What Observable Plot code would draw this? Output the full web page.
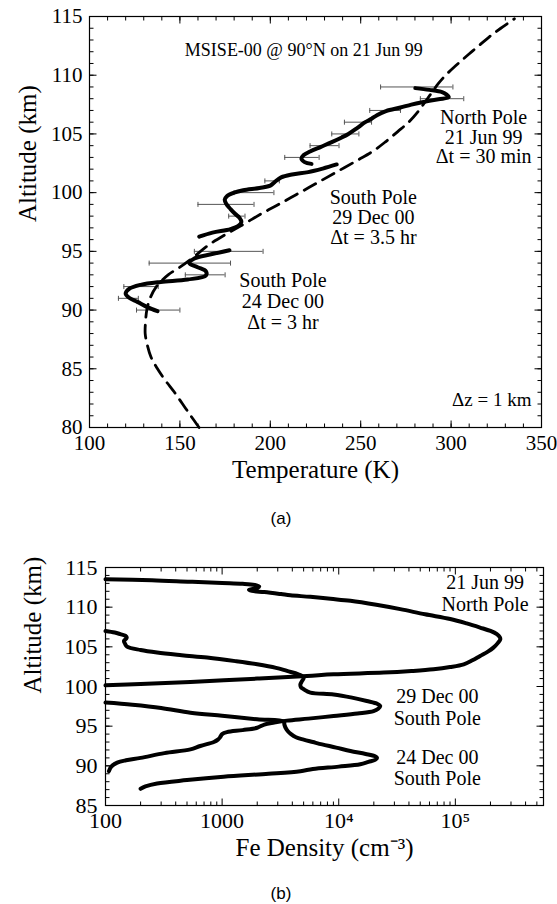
<!DOCTYPE html>
<html><head><meta charset="utf-8">
<script src="https://cdn.jsdelivr.net/npm/d3@7"></script>
<script src="https://cdn.jsdelivr.net/npm/@observablehq/plot@0.6"></script>
<style>
body{margin:0;background:#fff;}
#wrap{position:relative;width:557px;height:904px;overflow:hidden;background:#fff;}
#pa{position:absolute;top:0;left:0;}
#pb{position:absolute;top:540px;left:0;}
#wrap svg, #wrap svg text{font-family:"Liberation Serif","Times New Roman",serif !important;}
.cap{position:absolute;font-family:"Liberation Sans",Arial,sans-serif;font-size:17px;transform:translate(-50%,-50%);color:#000;}
</style></head><body>
<div id="wrap">
<div id="pa"></div>
<div class="cap" style="left:281px;top:519px">(a)</div>
<div id="pb"></div>
<div class="cap" style="left:281px;top:894px">(b)</div>
</div>
<script>
// ---------- Panel (a): temperature profiles ----------
const msiseAlt  = [80,81,82,83,84,85,86,87,88,89,90,91,92,93,93.65,94.5,95.5,96.5,97.35,98.2,98.9,99.8,100.75,101.7,102.74,103.5,104.3,105.2,106,106.86,107.7,108.56,109.3,110,110.8,111.55,112.4,113.25,114,114.8];
const msiseTemp = [160.6,156,151.5,147,142,137.6,134,132,130.8,131,131.7,133.5,137,143.5,150,157.5,165.5,176,185.7,195,203.5,214,225,236,248,256.5,263.5,270.5,276.5,281.5,285.5,289.5,293,297,302.5,308,314.5,321,327.5,335];

const sp24Alt  = [89.9,90.25,90.7,91.05,91.4,91.8,92.15,92.4,92.6,92.95,93.3,93.65,94.0,94.4,94.75,95.1];
const sp24Temp = [137.6,132,126.5,121.9,120,121.9,128.3,139.4,154.3,164.4,164.4,159.8,155.2,158,167.2,177.4];

const sp29Alt  = [96.25,96.6,96.9,97.2,97.5,97.85,98.2,98.6,99.05,99.4,99.7,100.0,100.2,100.4,100.6,100.9,101.3,101.55,101.75,102.05,102.4];
const sp29Temp = [160.7,168,178,182.5,184,183,180.5,178,175.6,174.8,176,180,185,194,200,202.4,206,212,221,229,236.7];

const npAlt  = [102.45,102.6,102.9,103.2,103.5,103.9,104.3,104.7,105.0,105.5,106.0,106.3,106.6,106.95,107.25,107.5,107.7,107.95,108.13,108.35,108.56,108.75,108.9];
const npTemp = [222.8,219,217.2,218.5,222,228,234,239.5,243.2,248,252.5,256,259,264,272,278,284,293,298.7,297.5,295,288,280.2];

const errAlt = [90,91,92,93,94,95,98,99,100,101,103,104,105,106,107,108,109];
const errLo  = [126,116,119,153,133,158,177,160,180,197,208,222,234,241,255,283,261];
const errHi  = [150,127,138,175,178,196,186,191,202,205,227,238,249,256,272,307,301];

const tempTicks = [100,150,200,250,300,350];
const altTicksA = [80,85,90,95,100,105,110,115];

// ---------- Panel (b): Fe density profiles ----------
const feNpAlt  = [113.53,113.4,113.2,113.05,112.95,112.8,112.6,112.4,112.2,112.05,111.9,111.65,111.5,111.3,111.05,110.8,110.3,109.75,109.1,108.5,107.95,107.43,107.0,106.6,106.25,105.96,105.5,104.9,104.4,103.85,103.3,102.8,102.45,102.17,101.95,101.75,101.54,101.33,101.0,100.57,100.3,100.15];
const feNpDens = [100,250,535,1000,1500,1900,2080,2000,1700,1800,2300,3200,3850,5710,8500,12600,21000,33700,55000,90400,125000,163000,200000,227000,240000,243000,232000,212000,190000,163000,140000,118000,90000,65000,42000,24300,9040,5350,2000,535,200,100];

const feSp29Alt  = [107.0,106.8,106.6,106.4,106.2,106.0,105.75,105.4,105.03,104.6,104.28,103.95,103.65,103.2,102.8,102.35,101.96,101.55,101.12,100.7,100.28,99.9,99.65,99.23,99.0,98.6,98.17,97.8,97.54,97.2,96.9,96.6,96.28,95.95,95.7,95.45,95.2,94.8,94.5,94.25,94.0,93.6,93.3,93.0,92.5,92.07,91.6,91.0,90.7,90.4,89.9,89.33];
const feSp29Dens = [100,120,134,148,152,150,144,147,153,200,277,450,743,1300,2000,2900,3600,4500,5010,4850,4690,4750,5010,5710,9040,13000,17400,21500,22700,21800,19900,14500,9040,5500,3600,2800,2300,2000,1500,1100,1000,960,920,850,650,535,320,200,150,126,112,107];

const feSp24Alt  = [97.97,97.7,97.3,96.7,96.3,95.86,95.56,95.2,94.8,94.4,94.0,93.6,93.3,93.0,92.7,92.3,91.86,91.5,91.2,91.0,90.75,90.5,90.2,89.9,89.6,89.33,89.0,88.62,88.2,87.78,87.4,87.1];
const feSp24Dens = [100,170,300,535,1000,2000,3380,3420,3500,3650,3900,4300,5000,6000,7200,9500,12600,17000,20500,21300,20500,18000,15300,10000,6000,4690,2500,1030,500,277,220,200];

const densTicks = [100,1000,1e4,1e5];
const densTickLabels = ["100","1000","10\u2074","10\u2075"];
const altTicksB = [85,90,95,100,105,110,115];

// ---------- helpers ----------
const rows = (alt, v) => alt.map((a, i) => ({alt: a, v: v[i]}));
const seg = (dx, dy) => ({draw(ctx) { ctx.moveTo(0, 0); ctx.lineTo(dx, dy); }});
const capSym = {draw(ctx) { ctx.moveTo(0, -2.5); ctx.lineTo(0, 2.5); }};
const serifStyle = 'font-family:"Liberation Serif","Times New Roman",serif;font-size:20px;color:black;background:white;overflow:visible;';

function frameTicks(xMajor, xMinor, yMajor, yMinor) {
  const t = (data, ch, anchor, sym) => Plot.dot(data, {[ch]: d => d, frameAnchor: anchor, symbol: sym, stroke: "black", fill: "none", strokeWidth: 1});
  return [
    t(xMinor, "x", "bottom", seg(0, -4)), t(xMajor, "x", "bottom", seg(0, -7)),
    t(xMinor, "x", "top", seg(0, 4)),     t(xMajor, "x", "top", seg(0, 7)),
    t(yMinor, "y", "left", seg(4, 0)),    t(yMajor, "y", "left", seg(7, 0)),
    t(yMinor, "y", "right", seg(-4, 0)),  t(yMajor, "y", "right", seg(-7, 0))
  ];
}

const errRows = errAlt.map((a, i) => ({alt: a, lo: errLo[i], hi: errHi[i]}));
const solid = {x: "v", y: "alt", stroke: "black", strokeWidth: 4, curve: "catmull-rom", strokeLinecap: "round", strokeLinejoin: "round"};

const plotA = Plot.plot({
  width: 557, height: 490,
  marginTop: 16, marginRight: 16, marginBottom: 63, marginLeft: 89,
  style: serifStyle,
  x: {type: "linear", domain: [100, 350]},
  y: {domain: [80, 115]},
  marks: [
    Plot.frame({stroke: "black", strokeWidth: 1.2}),
    ...frameTicks(tempTicks, d3.range(100, 351, 10), altTicksA, d3.range(80, 116, 1)),
    Plot.axisX({ticks: tempTicks, tickSize: 0, tickPadding: 8, fontSize: 21, label: null}),
    Plot.axisY({ticks: altTicksA, tickSize: 0, tickPadding: 7, fontSize: 21, label: null}),
    Plot.text(["Temperature (K)"], {text: d => d, frameAnchor: "bottom", dy: 50, fontSize: 25}),
    Plot.text(["Altitude (km)"], {text: d => d, frameAnchor: "left", rotate: -90, dx: -62, fontSize: 25}),
    Plot.ruleY(errRows, {y: "alt", x1: "lo", x2: "hi", stroke: "#555", strokeWidth: 1}),
    Plot.dot(errRows, {x: "lo", y: "alt", symbol: capSym, stroke: "#555", fill: "none", strokeWidth: 1}),
    Plot.dot(errRows, {x: "hi", y: "alt", symbol: capSym, stroke: "#555", fill: "none", strokeWidth: 1}),
    Plot.line(rows(msiseAlt, msiseTemp), {x: "v", y: "alt", stroke: "black", strokeWidth: 2.8, strokeDasharray: "13,8", curve: "catmull-rom"}),
    Plot.line(rows(sp24Alt, sp24Temp), solid),
    Plot.line(rows(sp29Alt, sp29Temp), solid),
    Plot.line(rows(npAlt, npTemp), solid),
    Plot.text(["MSISE-00 @ 90\u00B0N on 21 Jun 99"], {text: d => d, x: () => 218.5, y: () => 112.1, fontSize: 18}),
    Plot.text(["North Pole\n21 Jun 99\n\u0394t = 30 min"], {text: d => d, x: () => 318, y: () => 104.73, fontSize: 20, lineHeight: 1.0}),
    Plot.text(["South Pole\n29 Dec 00\n\u0394t = 3.5 hr"], {text: d => d, x: () => 257, y: () => 97.9, fontSize: 20, lineHeight: 1.0}),
    Plot.text(["South Pole\n24 Dec 00\n\u0394t = 3 hr"], {text: d => d, x: () => 207, y: () => 90.73, fontSize: 20, lineHeight: 1.03}),
    Plot.text(["\u0394z = 1 km"], {text: d => d, frameAnchor: "bottom-right", dx: -10, dy: -22, textAnchor: "end", fontSize: 19})
  ]
});
document.getElementById("pa").append(plotA);

const decades = [100, 1000, 1e4, 1e5];
const densMinor = decades.flatMap(d => [2,3,4,5,6,7,8,9].map(k => k * d)).filter(v => v <= 570000);

const plotB = Plot.plot({
  width: 557, height: 340,
  marginTop: 27, marginRight: 14, marginBottom: 75, marginLeft: 105,
  style: serifStyle,
  x: {type: "log", domain: [100, 570000]},
  y: {domain: [85, 115]},
  marks: [
    Plot.frame({stroke: "black", strokeWidth: 1.2}),
    ...frameTicks(densTicks, densMinor, altTicksB, d3.range(85, 116, 1)),
    Plot.axisX({ticks: densTicks, tickFormat: d => densTickLabels[densTicks.indexOf(d)], tickSize: 0, tickPadding: 7, fontSize: 22, label: null}),
    Plot.axisY({ticks: altTicksB, tickSize: 0, tickPadding: 8, fontSize: 22, label: null}),
    Plot.text(["Fe Density (cm\u207B\u00B3)"], {text: d => d, frameAnchor: "bottom", dy: 50, fontSize: 25}),
    Plot.text(["Altitude (km)"], {text: d => d, frameAnchor: "left", rotate: -90, dx: -73, dy: 7, fontSize: 25}),
    Plot.line(rows(feNpAlt, feNpDens), solid),
    Plot.line(rows(feSp29Alt, feSp29Dens), solid),
    Plot.line(rows(feSp24Alt, feSp24Dens), solid),
    Plot.text(["21 Jun 99\nNorth Pole"], {text: d => d, x: () => 180000, y: () => 111.74, fontSize: 20, lineHeight: 1.1}),
    Plot.text(["29 Dec 00\nSouth Pole"], {text: d => d, x: () => 70000, y: () => 97.44, fontSize: 20, lineHeight: 1.1}),
    Plot.text(["24 Dec 00\nSouth Pole"], {text: d => d, x: () => 70000, y: () => 89.76, fontSize: 20, lineHeight: 1.05})
  ]
});
document.getElementById("pb").append(plotB);
</script>
</body></html>
